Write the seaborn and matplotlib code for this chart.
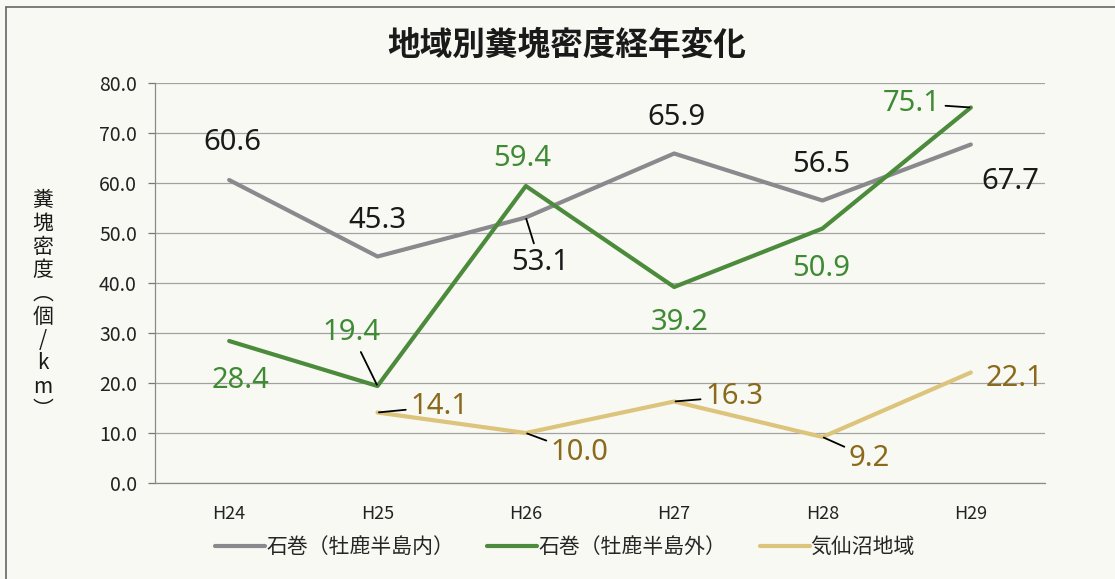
import pandas as pd
import numpy as np
import matplotlib
matplotlib.use('Agg')
import matplotlib.pyplot as plt
import seaborn as sns
from matplotlib.lines import Line2D

# ---- data ----
years = ['H24', 'H25', 'H26', 'H27', 'H28', 'H29']
naibu = [60.6, 45.3, 53.1, 65.9, 56.5, 67.7]      # 石巻（牡鹿半島内）
gaibu = [28.4, 19.4, 59.4, 39.2, 50.9, 75.1]      # 石巻（牡鹿半島外）
kesennuma = [np.nan, 14.1, 10.0, 16.3, 9.2, 22.1]  # 気仙沼地域
series_names = ['石巻（牡鹿半島内）', '石巻（牡鹿半島外）', '気仙沼地域']

# ---- styles / label offsets (pixels) ----
line_cols = ['#8a8a8e', '#4c8a3c', '#dcc47c']
text_cols = ['#1a1a1a', '#3f8a35', '#8a6a1c']
offsets = [
    [(3, 37), (0, 36), (14, -45), (2, 36), (-1, 36), (39, -37)],
    [(11, -40), (-26, 53), (-4, 27), (5, -35), (-1, -40), (-59, 4)],
    [None, (62, 6), (54, -20), (60, 5), (47, -21), (44, -6)],
]
leaders = [
    [False, False, True, False, False, False],
    [False, True, False, False, False, True],
    [False, True, True, True, True, False],
]

df = pd.DataFrame({
    '年度': years * 3,
    '糞塊密度': naibu + gaibu + kesennuma,
    '地域': [n for n in series_names for _ in years],
})
df['pos'] = df['年度'].map({y: i for i, y in enumerate(years)})

sns.set_theme(style='white')
plt.rcParams['font.family'] = ['Noto Sans CJK JP', 'DejaVu Sans']

bg = '#f9f9f3'
fig = plt.figure(figsize=(11.15, 5.79), dpi=100, facecolor=bg)
ax = fig.add_axes([155 / 1115, 1 - 483 / 579, 890 / 1115, 400 / 579])
ax.set_facecolor(bg)

sns.lineplot(data=df, x='pos', y='糞塊密度', hue='地域', hue_order=series_names,
             palette=line_cols, linewidth=3, ax=ax, legend=False, sort=False)

ax.set_xlim(-0.5, 5.5)
ax.set_ylim(0, 80)
ax.set_yticks(np.arange(0, 81, 10))
ax.set_yticklabels([f'{v:.1f}' for v in np.arange(0, 81, 10)], fontsize=14, color='#222222')
ax.set_xticks(range(len(years)))
ax.set_xticklabels(years, fontsize=13, color='#222222')
ax.set_xticks(np.arange(0.5, 6, 1), minor=True)
ax.tick_params(axis='x', which='major', length=0, pad=16)
ax.tick_params(axis='x', which='minor', length=5, width=0.9, color='#777777', direction='out')
ax.tick_params(axis='y', length=5, width=0.9, color='#777777', direction='out', pad=8, left=True)
ax.grid(axis='y', color='#a2a2a2', linewidth=0.9)
ax.grid(axis='x', visible=False)
for s in ['top', 'right']:
    ax.spines[s].set_visible(False)
for s in ['left', 'bottom']:
    ax.spines[s].set_color('#8a8a8a')
    ax.spines[s].set_linewidth(0.9)
ax.set_xlabel('')
ax.set_ylabel('')

# data labels
all_vals = [naibu, gaibu, kesennuma]
for k, vals in enumerate(all_vals):
    for i, v in enumerate(vals):
        if np.isnan(v):
            continue
        arrow = dict(arrowstyle='-', color='black', lw=1.3, shrinkA=1, shrinkB=1) if leaders[k][i] else None
        ax.annotate(f'{v:.1f}', xy=(i, v), xytext=offsets[k][i], textcoords='offset pixels',
                    ha='center', va='center', fontsize=21, color=text_cols[k],
                    family=['Noto Sans', 'DejaVu Sans'],
                    arrowprops=arrow, annotation_clip=False)

# title
fig.text(567 / 1115, 1 - 45 / 579, '地域別糞塊密度経年変化', ha='center', va='center',
         fontsize=23.5, fontweight='bold', color='#1a1a1a')

# vertical y label
fig.text(43 / 1115, 1 - 305 / 579, '\n'.join('糞塊密度︵個/km︶'), ha='center', va='center',
         fontsize=15, color='#1a1a1a', linespacing=1.08)

# legend
handles = [Line2D([0], [0], color=c, lw=3) for c in line_cols]
fig.legend(handles, series_names, loc='center', bbox_to_anchor=(565 / 1115, 1 - 547 / 579),
           ncol=3, frameon=False, fontsize=15, handlelength=2.4, handletextpad=0.05,
           columnspacing=1.6)

# outer frame (left + top edge of the scanned chart box)
fig.add_artist(Line2D([6 / 1115, 6 / 1115], [0, 1 - 7 / 579], color='#666666', lw=1.2))
fig.add_artist(Line2D([6 / 1115, 1], [1 - 7 / 579, 1 - 7 / 579], color='#666666', lw=1.2))

fig.savefig('out.png', dpi=100, facecolor=bg)
